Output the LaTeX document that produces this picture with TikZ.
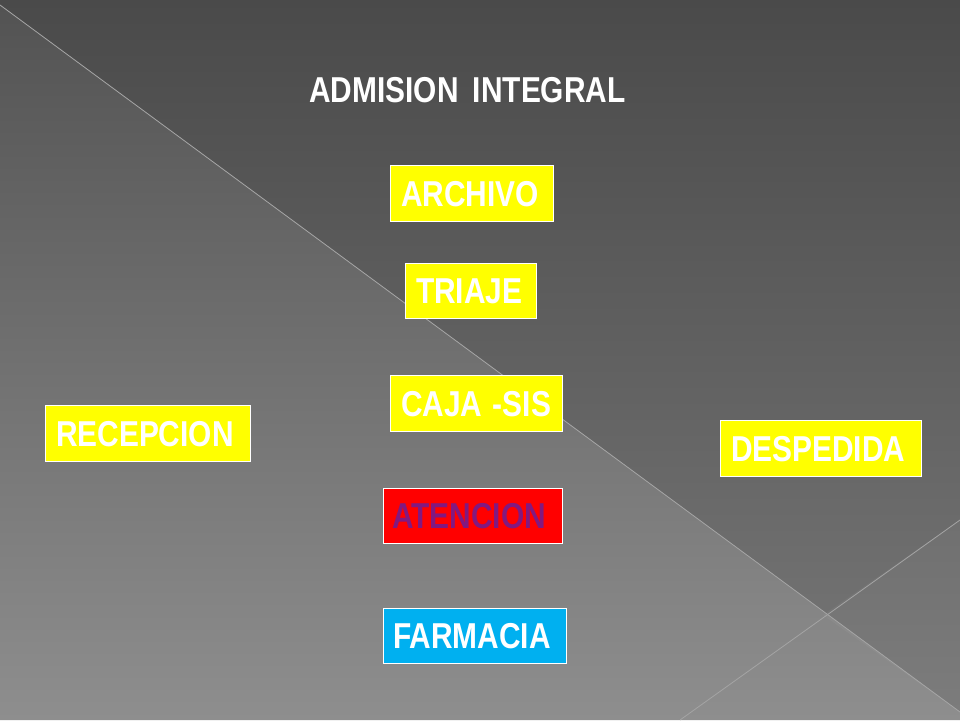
\documentclass[tikz,border=0pt]{standalone}
\usepackage{fontspec}
\newfontfamily\lsb[FakeStretch=0.83]{Liberation Sans}
\definecolor{bgtop}{HTML}{4A4A4A}
\definecolor{bgtopb}{HTML}{777777}
\definecolor{bglow}{HTML}{535353}
\definecolor{bglowb}{HTML}{8E8E8E}
\definecolor{linec}{HTML}{A4A4A4}
\definecolor{boxyellow}{HTML}{FFFF00}
\definecolor{boxred}{HTML}{FF0000}
\definecolor{boxcyan}{HTML}{00B0F0}
\definecolor{txtpurple}{RGB}{130,25,128}
\tikzset{
  slidebox/.style={draw=white, line width=0.9pt, text=white, align=left,
    inner ysep=0pt, text height=26.2pt, text depth=0pt,
    font=\lsb\bfseries\fontsize{36}{40}\selectfont},
  titletext/.style={text=white, inner sep=0pt, anchor=base west,
    font=\lsb\bfseries\fontsize{36}{40}\selectfont},
  deco/.style={draw=linec, line width=0.8pt}
}
\begin{document}
\begin{tikzpicture}[x=1pt,y=-1pt]
\useasboundingbox (0,0) rectangle (960,720);
% background regions
\shade[top color=bgtop, bottom color=bgtopb] (0,0) -- (960,0) -- (960,712) -- (0,5) -- cycle;
\shade[top color=bglow, bottom color=bglowb] (0,5) -- (960,712) -- (960,720) -- (0,720) -- cycle;
\fill[white, opacity=0.04] (823,615) -- (960,520) -- (960,712) -- cycle;
% decorative lines
\coordinate (d1) at (0,5);
\coordinate (d2) at (960,712);
\coordinate (e1) at (680,720);
\coordinate (e2) at (960,520);
\draw[deco] (d1) -- (d2);
\draw[deco] (e1) -- (e2);
% title
\node[titletext] (title) at (309,102) {ADMISION\hspace{6pt} INTEGRAL};
% boxes
\node[slidebox, fill=boxyellow, minimum width=163pt, minimum height=56pt, inner xsep=11pt, text width=141pt] (archivo) at (471.5,193) {ARCHIVO};
\node[slidebox, fill=boxyellow, minimum width=131pt, minimum height=55pt, inner xsep=11pt, text width=109pt] (triaje) at (470.5,290.5) {TRIAJE};
\node[slidebox, fill=boxyellow, minimum width=172pt, minimum height=56pt, inner xsep=11pt, text width=150pt] (caja) at (476,403) {CAJA\hspace{-1.5pt} -SIS};
\node[slidebox, fill=boxyellow, minimum width=205pt, minimum height=56pt, inner xsep=11pt, text width=183pt] (recepcion) at (147.5,433) {RECEPCION};
\node[slidebox, fill=boxyellow, minimum width=201pt, minimum height=56pt, inner xsep=11pt, text width=179pt] (despedida) at (820.5,448) {DESPEDIDA};
\node[slidebox, fill=boxred, text=txtpurple, minimum width=179pt, minimum height=55pt, inner xsep=9pt, text width=161pt] (atencion) at (472.5,515.5) {ATENCION};
\node[slidebox, fill=boxcyan, minimum width=183pt, minimum height=55pt, inner xsep=10pt, text width=163pt] (farmacia) at (474.5,635.5) {FARMACIA};
\end{tikzpicture}
\end{document}
